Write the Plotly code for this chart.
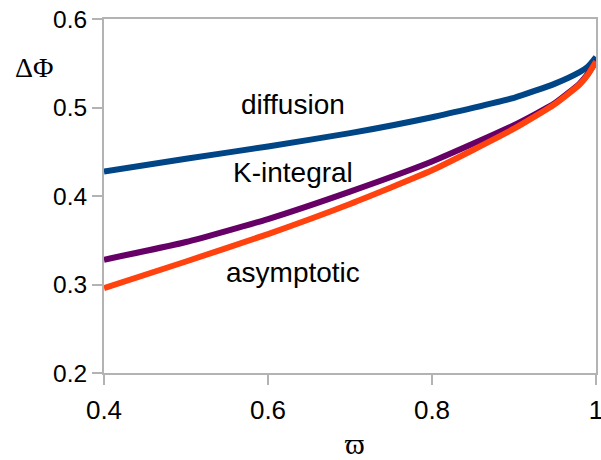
import plotly.graph_objects as go

omega = [0.4, 0.5, 0.6, 0.7, 0.8, 0.9, 0.95, 0.98, 0.99, 1.0]
diffusion = [0.4275, 0.442, 0.456, 0.471, 0.489, 0.511, 0.527, 0.540, 0.546, 0.557]
k_integral = [0.328, 0.348, 0.374, 0.405, 0.439, 0.480, 0.505, 0.527, 0.538, 0.552]
asymptotic = [0.296, 0.326, 0.357, 0.391, 0.429, 0.476, 0.504, 0.526, 0.537, 0.552]

x_ticks = [0.4, 0.6, 0.8, 1.0]
x_tick_text = ["0.4", "0.6", "0.8", "1"]
y_ticks = [0.2, 0.3, 0.4, 0.5, 0.6]
y_tick_text = ["0.2", "0.3", "0.4", "0.5", "0.6"]

series = [
    ("diffusion", diffusion, "#004586"),
    ("K-integral", k_integral, "#660066"),
    ("asymptotic", asymptotic, "#ff420e"),
]

fig = go.Figure()
for name, vals, col in series:
    fig.add_trace(go.Scatter(x=omega, y=vals, mode="lines", name=name,
                             line=dict(color=col, width=6, shape="spline", smoothing=0.5)))

label_font = dict(family="Liberation Sans, Arial, sans-serif", size=28, color="black")
fig.add_annotation(x=0.631, y=0.503, text="diffusion", showarrow=False, font=label_font,
                   xanchor="center", yanchor="middle")
fig.add_annotation(x=0.631, y=0.427, text="K-integral", showarrow=False, font=label_font,
                   xanchor="center", yanchor="middle")
fig.add_annotation(x=0.630, y=0.313, text="asymptotic", showarrow=False, font=label_font,
                   xanchor="center", yanchor="middle")

fig.add_annotation(xref="paper", yref="paper", x=-0.142, y=0.862, text="ΔΦ", showarrow=False,
                   xanchor="center", yanchor="middle",
                   font=dict(family="Liberation Serif, Times New Roman, serif", size=28, color="black"))
fig.add_annotation(xref="paper", yref="paper", x=0.511, y=-0.2, text="ϖ", showarrow=False,
                   xanchor="center", yanchor="middle",
                   font=dict(family="Liberation Serif, Times New Roman, serif", size=30, color="black"))

axis_common = dict(showgrid=False, zeroline=False, showline=True, linecolor="#b3b3b3", linewidth=2,
                   mirror=True, ticks="outside", ticklen=10, tickwidth=2, tickcolor="#b3b3b3",
                   automargin=False, ticklabeloverflow="allow")

fig.update_xaxes(range=[0.4, 1.0], tickvals=x_ticks, ticktext=x_tick_text, ticklabelstandoff=3,
                 tickfont=dict(family="Liberation Sans, Arial, sans-serif", size=26, color="black"),
                 **axis_common)
fig.update_yaxes(range=[0.2, 0.6], tickvals=y_ticks, ticktext=y_tick_text,
                 tickfont=dict(family="Liberation Sans, Arial, sans-serif", size=24.5, color="black"),
                 **axis_common)

fig.update_layout(width=601, height=460, showlegend=False,
                  margin=dict(l=104, r=5, t=19, b=87),
                  plot_bgcolor="white", paper_bgcolor="white")

# remove the page's default body margin so the figure fills the window exactly
fig.write_html("out.html", config={"displayModeBar": False},
               post_script="document.body.style.margin='0px';document.body.style.overflow='hidden';")
